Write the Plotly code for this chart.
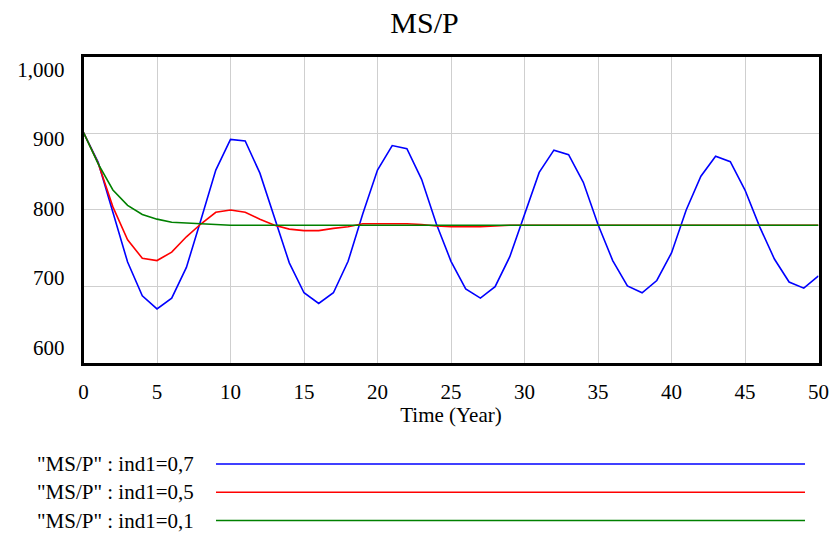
import plotly.graph_objects as go

# ---------------- data ----------------
years = list(range(0, 51))

ms_p_ind07 = [901, 862, 797, 732, 688, 671, 685, 725, 788, 852, 892,
              890, 848, 790, 731, 692, 678, 692, 733, 795, 852,
              884, 880, 840, 782, 733, 697, 685, 700, 739, 795,
              849, 878, 872, 836, 781, 734, 701, 692, 708, 744,
              800, 844, 870, 863, 826, 778, 736, 706, 698, 714]

ms_p_ind05 = [901, 861, 804, 761, 737, 734, 745, 765, 782, 797, 800,
              797, 788, 780, 775, 773, 773, 776, 778, 782, 782,
              782, 782, 781, 779, 778, 778, 778, 779, 780, 780,
              780, 780, 780, 780, 780, 780, 780, 780, 780, 780,
              780, 780, 780, 780, 780, 780, 780, 780, 780, 780]

ms_p_ind01 = [901, 860, 826, 806, 794, 788, 784, 783, 782, 781, 780,
              780, 780, 780, 780, 780, 780, 780, 780, 780, 780,
              780, 780, 780, 780, 780, 780, 780, 780, 780, 780,
              780, 780, 780, 780, 780, 780, 780, 780, 780, 780,
              780, 780, 780, 780, 780, 780, 780, 780, 780, 780]

series_names = ['"MS/P" : ind1=0,7', '"MS/P" : ind1=0,5', '"MS/P" : ind1=0,1']
series_values = [ms_p_ind07, ms_p_ind05, ms_p_ind01]
series_colors = ["#0000FF", "#FF0000", "#008000"]

x_ticks = list(range(0, 51, 5))
y_ticks = [600, 700, 800, 900, 1000]
y_tick_text = ["600", "700", "800", "900", "1,000"]

title_text = "MS/P"
x_title = "Time (Year)"

FONT = "Liberation Serif, Times New Roman, serif"
W, H = 832, 534

fig = go.Figure()

for name, vals, col in zip(series_names, series_values, series_colors):
    fig.add_trace(go.Scatter(x=years, y=vals, mode="lines", name=name,
                             line=dict(color=col, width=1.6),
                             showlegend=False, hoverinfo="skip"))

# invisible trace so the label axis is drawn
fig.add_trace(go.Scatter(x=[None], y=[None], yaxis="y2", showlegend=False,
                         hoverinfo="skip"))

x_dom = [83.5 / W, 818.5 / W]
y_dom = [1 - 363.3 / H, 1 - 56.6 / H]

fig.update_layout(
    width=W, height=H,
    margin=dict(l=0, r=0, t=0, b=0),
    paper_bgcolor="white", plot_bgcolor="white",
    font=dict(family=FONT, color="black", size=21),
    title=dict(text=title_text, x=424.5 / W, xref="container", xanchor="center",
               y=1 - 22 / H, yref="container", yanchor="middle",
               font=dict(family=FONT, size=30, color="black")),
    xaxis=dict(domain=x_dom, range=[0, 50], tickvals=x_ticks,
               showgrid=True, gridcolor="#cfcfcf", gridwidth=1,
               showline=True, linecolor="black", linewidth=3, mirror=True,
               ticks="", zeroline=False, automargin=False,
               ticklabelstandoff=7,
               tickfont=dict(family=FONT, size=21),
               title=dict(text=x_title, standoff=5,
                          font=dict(family=FONT, size=21))),
    yaxis=dict(domain=y_dom, range=[600, 1000], tickvals=[700, 800, 900],
               showticklabels=False,
               showgrid=True, gridcolor="#cfcfcf", gridwidth=1,
               showline=True, linecolor="black", linewidth=3, mirror=True,
               ticks="", zeroline=False, automargin=False),
    yaxis2=dict(overlaying="y", side="left", anchor="x",
                range=[577.3, 1018.1], tickvals=y_ticks, ticktext=y_tick_text,
                showgrid=False, zeroline=False, showline=False, ticks="",
                automargin=False, ticklabelstandoff=18,
                tickfont=dict(family=FONT, size=21)),
)

# legend drawn below the chart: text at left, long sample line at right
legend_y = [464, 492.3, 520.5]
for name, col, yy in zip(series_names, series_colors, legend_y):
    fig.add_annotation(text=name, xref="paper", yref="paper",
                       x=196 / W, y=1 - yy / H, xanchor="right", yanchor="middle",
                       showarrow=False, font=dict(family=FONT, size=21, color="black"))
    fig.add_shape(type="line", xref="paper", yref="paper",
                  x0=216 / W, x1=805 / W, y0=1 - yy / H, y1=1 - yy / H,
                  line=dict(color=col, width=1.5))

fig.write_html("out.html")
